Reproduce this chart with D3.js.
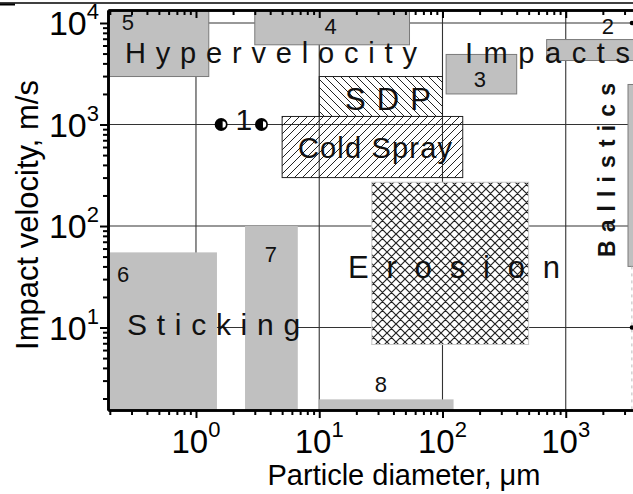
<!DOCTYPE html>
<html>
<head>
<meta charset="utf-8">
<script src="https://cdn.jsdelivr.net/npm/d3@7"></script>
<style>
  body { margin: 0; background: #fff; }
  svg { display: block; font-family: "Liberation Sans", Arial, sans-serif; }
</style>
</head>
<body>
<div id="chart"></div>
<script>
const width = 633
const height = 494
const plot = { left: 108, right: 689, top: 10, bottom: 410 }

// axis domains (the picture is cropped on the right side)
const diameterDomain = [0.1933, 10000]
const velocityDomain = [1.54, 13430]

const majorDiam = [1, 10, 100, 1000]
const majorVel = [10, 100, 1000, 10000]

// grey windows, [min, max] diameter (um) and velocity (m/s)
const greyIds = ['5', '4', '2', '3', 'ballistics', '6', '7', '8']
const greyDiam = [[0.19, 1.27], [3, 54], [700, 20000], [107, 400], [3200, 20000], [0.19, 1.48], [2.5, 6.7], [10, 123]]
const greyVel = [[2970, 20000], [6100, 20000], [4270, 6870], [2000, 4900], [40, 2480], [1, 55], [1, 100], [1, 1.96]]
const greyOutlined = ['5', '4', '2', '3', 'ballistics']

// hatched windows
const hatchIds = ['SDP', 'Cold Spray', 'Erosion']
const hatchDiam = [[10, 100], [5, 146], [26.7, 500]]
const hatchVel = [[1200, 2970], [300, 1200], [6.8, 270]]

// region 1 : two points at 1000 m/s
const pointDiam = [1.6, 3.4]
const pointVel = [1000, 1000]

// small marks on the cut right edge
const edgeDiam = 3440
const edgeVel = [10, 10000]

// number labels [text, diameter, velocity]
const numberText = ['5', '4', '2', '3', '6', '7', '8']
const numberDiam = [0.25, 12.4, 2200, 201, 0.256, 4.06, 31.7]
const numberVel = [8530, 7790, 7790, 2340, 28, 44, 2.31]

// region names
const nameText = ['Hypervelocity', 'Impacts', 'SDP', 'Cold Spray', 'Erosion', 'Sticking']
const nameDiam = [0.265, 152, 16.2, 6.72, 17.1, 0.276]
const nameVel = [4036, 4036, 1390, 468, 30.7, 8.43]
const nameLength = [292, 165, 86, 154, 212, 173]
const nameSize = [29, 29, 31, 29, 31, 30]

const x = d3.scaleLog().domain(diameterDomain).range([plot.left, plot.right])
const y = d3.scaleLog().domain(velocityDomain).range([plot.bottom, plot.top])

const svg = d3.select('#chart').append('svg')
  .attr('width', width)
  .attr('height', height)

const defs = svg.append('defs')
defs.append('clipPath').attr('id', 'plotClip')
  .append('rect')
  .attr('x', plot.left).attr('y', plot.top)
  .attr('width', plot.right - plot.left).attr('height', plot.bottom - plot.top)

const addPattern = (id, size, d, sw) => {
  defs.append('pattern').attr('id', id)
    .attr('patternUnits', 'userSpaceOnUse')
    .attr('width', size).attr('height', size)
    .append('path').attr('d', d)
    .attr('stroke', '#222').attr('stroke-width', sw).attr('fill', 'none')
}
addPattern('back', 8, 'M0,0L8,8M-2,6L2,10M6,-2L10,2', 1)
addPattern('fwd', 8, 'M0,8L8,0M-2,2L2,-2M6,10L10,6', 1)
addPattern('cross', 9, 'M0,0L9,9M-2,7L2,11M7,-2L11,2M0,9L9,0M-2,2L2,-2M7,11L11,7', 1.2)

// page rule at the very top
svg.append('line').attr('x1', 0).attr('x2', width).attr('y1', 3).attr('y2', 3)
  .attr('stroke', '#000').attr('stroke-width', 1.5)
svg.append('line').attr('x1', 0).attr('x2', 15).attr('y1', 4.5).attr('y2', 4.5)
  .attr('stroke', '#000').attr('stroke-width', 2)

const g = svg.append('g').attr('clip-path', 'url(#plotClip)')

// grid
g.append('g').selectAll('line').data(majorVel).enter().append('line')
  .attr('x1', plot.left).attr('x2', plot.right)
  .attr('y1', d => y(d)).attr('y2', d => y(d))
  .attr('stroke', '#333').attr('stroke-width', 1.1)
g.append('g').selectAll('line').data(majorDiam).enter().append('line')
  .attr('y1', plot.top).attr('y2', plot.bottom)
  .attr('x1', d => x(d)).attr('x2', d => x(d))
  .attr('stroke', '#333').attr('stroke-width', 1.1)

// hatched windows
const hatchFill = { SDP: 'url(#back)', 'Cold Spray': 'url(#fwd)', Erosion: 'url(#cross)' }
hatchIds.forEach((id, i) => {
  const r = {
    x: x(hatchDiam[i][0]), y: y(hatchVel[i][1]),
    w: x(hatchDiam[i][1]) - x(hatchDiam[i][0]),
    h: y(hatchVel[i][0]) - y(hatchVel[i][1])
  }
  if (id === 'Erosion') {
    g.append('rect').attr('x', r.x).attr('y', r.y).attr('width', r.w).attr('height', r.h)
      .attr('fill', '#fff')
  }
  g.append('rect').attr('x', r.x).attr('y', r.y).attr('width', r.w).attr('height', r.h)
    .attr('fill', hatchFill[id])
    .attr('stroke', id === 'Erosion' ? '#c8c8c8' : '#222')
    .attr('stroke-width', 1)
})

// grey windows
g.append('g').selectAll('rect').data(greyIds).enter().append('rect')
  .attr('x', (d, i) => x(greyDiam[i][0]))
  .attr('y', (d, i) => y(greyVel[i][1]))
  .attr('width', (d, i) => x(greyDiam[i][1]) - x(greyDiam[i][0]))
  .attr('height', (d, i) => y(greyVel[i][0]) - y(greyVel[i][1]))
  .attr('fill', '#c0c0c0')
  .attr('stroke', d => greyOutlined.includes(d) ? '#7a7a7a' : 'none')
  .attr('stroke-width', 1)

// faint dashes and dots on the cut edge
g.append('line')
  .attr('x1', x(edgeDiam)).attr('x2', x(edgeDiam))
  .attr('y1', y(40)).attr('y2', y(velocityDomain[0]))
  .attr('stroke', '#bbb').attr('stroke-dasharray', '3,4')
g.append('g').selectAll('circle').data(edgeVel).enter().append('circle')
  .attr('cx', x(edgeDiam)).attr('cy', d => y(d)).attr('r', 2.2).attr('fill', '#000')

// region 1 points
const pts = g.append('g').selectAll('g').data(pointDiam).enter().append('g')
  .attr('transform', (d, i) => `translate(${x(d)},${y(pointVel[i])})`)
pts.append('circle').attr('r', 6.5).attr('fill', '#000')
pts.append('path').attr('d', 'M1.5,-3.2A3.2,3.2 0 0 1 1.5,3.2Z').attr('fill', '#fff')

g.append('text')
  .attr('x', x(2.45)).attr('y', y(880))
  .attr('text-anchor', 'middle').attr('font-size', 30)
  .attr('fill', '#111')
  .text('1')

// number labels
g.append('g').selectAll('text').data(numberText).enter().append('text')
  .attr('x', (d, i) => x(numberDiam[i]))
  .attr('y', (d, i) => y(numberVel[i]))
  .attr('text-anchor', d => d === '5' ? 'start' : 'middle')
  .attr('font-size', 22)
  .attr('fill', '#111')
  .text(d => d)

// region names, spaced out
g.append('g').selectAll('text').data(nameText).enter().append('text')
  .attr('x', (d, i) => x(nameDiam[i]))
  .attr('y', (d, i) => y(nameVel[i]))
  .attr('font-size', (d, i) => nameSize[i])
  .attr('textLength', (d, i) => nameLength[i])
  .attr('lengthAdjust', 'spacing')
  .attr('fill', '#111')
  .text(d => d)

g.append('text')
  .attr('transform', `translate(${x(2506)},${y(356)}) rotate(-90)`)
  .attr('text-anchor', 'middle')
  .attr('font-size', 23).attr('font-weight', 'bold')
  .attr('textLength', 174).attr('lengthAdjust', 'spacing')
  .attr('fill', '#111')
  .text('Ballistics')

// axes
const minorTicks = (domain) => {
  const out = []
  for (let e = -1; e <= 4; e++) {
    for (let m = 2; m <= 9; m++) {
      const v = m * Math.pow(10, e)
      if (v > domain[0] && v < domain[1]) out.push(v)
    }
  }
  return out
}
const minorDiam = minorTicks(diameterDomain)
const minorVel = minorTicks(velocityDomain)

const styleAxis = sel => {
  sel.select('.domain').attr('stroke-width', 2.6)
  sel.selectAll('.tick line').attr('stroke-width', 2)
}

svg.append('g').attr('transform', `translate(0,${plot.bottom})`)
  .call(d3.axisBottom(x).tickValues(minorDiam).tickSize(5).tickSizeOuter(0).tickFormat(''))
  .call(styleAxis)
svg.append('g').attr('transform', `translate(0,${plot.bottom})`)
  .call(d3.axisBottom(x).tickValues(majorDiam).tickSize(8).tickSizeOuter(0).tickFormat(''))
  .call(styleAxis)
svg.append('g').attr('transform', `translate(0,${plot.top})`)
  .call(d3.axisBottom(x).tickValues(minorDiam).tickSize(5).tickSizeOuter(0).tickFormat(''))
  .call(styleAxis)
svg.append('g').attr('transform', `translate(0,${plot.top})`)
  .call(d3.axisBottom(x).tickValues(majorDiam).tickSize(8).tickSizeOuter(0).tickFormat(''))
  .call(styleAxis)
svg.append('g').attr('transform', `translate(${plot.left},0)`)
  .call(d3.axisLeft(y).tickValues(minorVel).tickSize(5).tickSizeOuter(0).tickFormat(''))
  .call(styleAxis)
svg.append('g').attr('transform', `translate(${plot.left},0)`)
  .call(d3.axisLeft(y).tickValues(majorVel).tickSize(8).tickSizeOuter(0).tickFormat(''))
  .call(styleAxis)

const powerLabel = (sel) => {
  sel.append('tspan').text('10')
  sel.append('tspan').attr('dy', -16).attr('font-size', 22)
    .text(d => Math.round(Math.log10(d)))
}

svg.append('g').selectAll('text').data(majorDiam).enter().append('text')
  .attr('x', d => x(d))
  .attr('y', plot.bottom + 43)
  .attr('text-anchor', 'middle')
  .attr('font-size', 33)
  .call(powerLabel)

svg.append('g').selectAll('text').data(majorVel).enter().append('text')
  .attr('x', plot.left - 9)
  .attr('y', d => y(d) + 12)
  .attr('text-anchor', 'end')
  .attr('font-size', 34)
  .call(powerLabel)

svg.append('text')
  .attr('x', 404).attr('y', 485)
  .attr('text-anchor', 'middle')
  .attr('font-size', 29)
  .text('Particle diameter, \u03bcm')

svg.append('text')
  .attr('transform', 'translate(38,215) rotate(-90)')
  .attr('text-anchor', 'middle')
  .attr('font-size', 31)
  .text('Impact velocity, m/s')
</script>
</body>
</html>
